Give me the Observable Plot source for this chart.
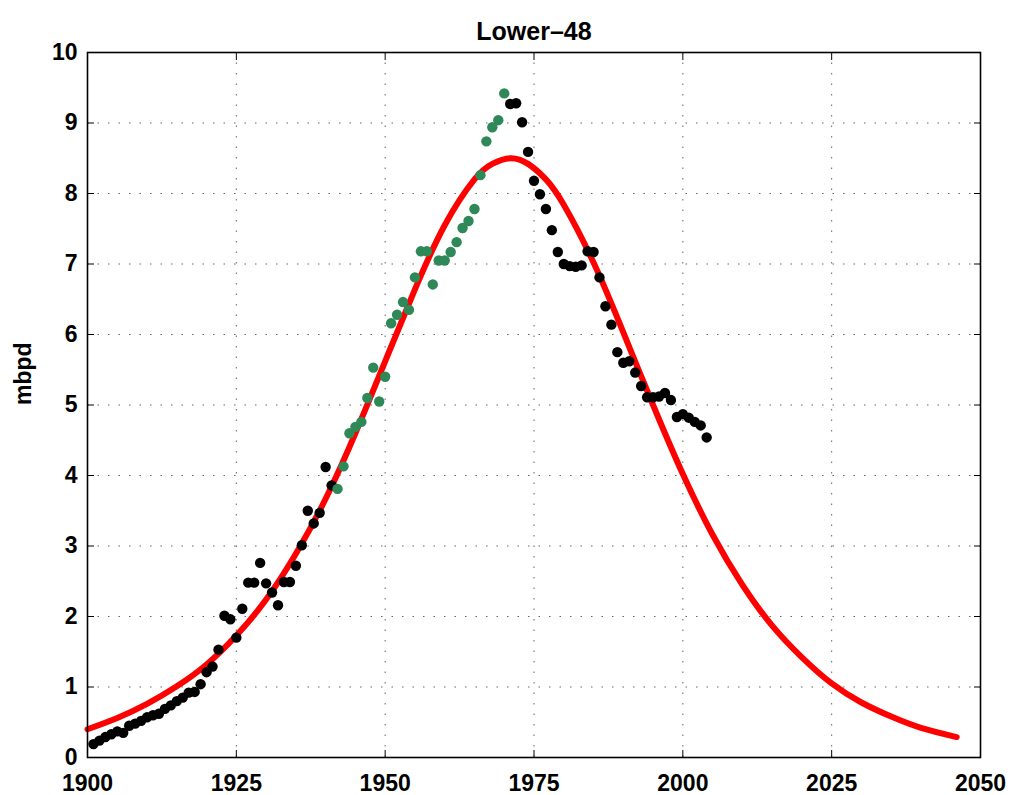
<!DOCTYPE html>
<html>
<head>
<meta charset="utf-8">
<script src="https://cdn.jsdelivr.net/npm/d3@7"></script>
<script src="https://cdn.jsdelivr.net/npm/@observablehq/plot@0.6"></script>
<style>
  html, body { margin: 0; padding: 0; background: #fff; }
</style>
</head>
<body>
<div id="chart"></div>
<script>
// ---- Data ----
const title = "Lower–48";
const yLabel = "mbpd";

// Annual production, black dots 1901–1941
const earlyStart = 1901;
const earlyMbpd = [
  0.19, 0.24, 0.29, 0.33, 0.37, 0.35, 0.45, 0.48, 0.52, 0.57,
  0.60, 0.62, 0.69, 0.74, 0.80, 0.85, 0.92, 0.93, 1.04, 1.21,
  1.29, 1.53, 2.01, 1.96, 1.70, 2.11, 2.48, 2.48, 2.76, 2.47,
  2.34, 2.16, 2.49, 2.49, 2.72, 3.01, 3.50, 3.32, 3.47, 4.12,
  3.86
];

// Green dots 1942–1970
const greenStart = 1942;
const greenMbpd = [
  3.81, 4.13, 4.60, 4.69, 4.76, 5.10, 5.53, 5.05, 5.40, 6.16,
  6.28, 6.46, 6.35, 6.81, 7.18, 7.18, 6.71, 7.05, 7.05, 7.17,
  7.31, 7.51, 7.61, 7.78, 8.26, 8.74, 8.94, 9.04, 9.42
];

// Black dots 1971–2004
const lateStart = 1971;
const lateMbpd = [
  9.27, 9.28, 9.01, 8.59, 8.18, 7.99, 7.78, 7.48, 7.17, 7.00,
  6.97, 6.96, 6.98, 7.18, 7.17, 6.81, 6.40, 6.14, 5.75, 5.60,
  5.62, 5.46, 5.27, 5.11, 5.11, 5.12, 5.17, 5.07, 4.83, 4.87,
  4.82, 4.76, 4.71, 4.54
];

// Fitted (Hubbert) curve
const fitYears = [1900, 1905, 1910, 1915, 1920, 1925, 1930, 1935, 1940, 1945,
                  1950, 1955, 1960, 1965, 1968, 1971, 1974, 1977, 1980, 1985,
                  1990, 1995, 2000, 2005, 2010, 2015, 2020, 2025, 2030, 2035,
                  2040, 2046];
const fitMbpd  = [0.40, 0.56, 0.76, 1.01, 1.32, 1.73, 2.24, 2.89, 3.67, 4.60,
                  5.62, 6.64, 7.55, 8.20, 8.42, 8.50, 8.42, 8.20, 7.84, 7.02,
                  6.03, 5.00, 4.02, 3.16, 2.45, 1.87, 1.42, 1.05, 0.78, 0.58,
                  0.42, 0.29];

const xTicks = [1900, 1925, 1950, 1975, 2000, 2025, 2050];
const yTicks = [0, 1, 2, 3, 4, 5, 6, 7, 8, 9, 10];

// ---- Build tables ----
const blackRows = [
  ...earlyMbpd.map((v, i) => ({year: earlyStart + i, mbpd: v})),
  ...lateMbpd.map((v, i) => ({year: lateStart + i, mbpd: v}))
];
const greenRows = greenMbpd.map((v, i) => ({year: greenStart + i, mbpd: v}));
const fitRows = fitYears.map((y, i) => ({year: y, mbpd: fitMbpd[i]}));

const chart = Plot.plot({
  width: 1013,
  height: 795,
  marginLeft: 87,
  marginRight: 33,
  marginTop: 52,
  marginBottom: 38,
  style: {
    fontFamily: "'Liberation Sans', Arial, Helvetica, sans-serif",
    fontSize: "23px",
    fontWeight: "bold",
    color: "black",
    background: "white",
    overflow: "visible"
  },
  x: {domain: [1900, 2050]},
  y: {domain: [0, 10]},
  marks: [
    Plot.gridX(xTicks, {stroke: "#555", strokeOpacity: 0.9, strokeDasharray: "1.5,9", strokeWidth: 1}),
    Plot.gridY(yTicks, {stroke: "#555", strokeOpacity: 0.9, strokeDasharray: "1.5,9", strokeWidth: 1}),
    Plot.lineY(fitRows, {x: "year", y: "mbpd", stroke: "#ff0000", strokeWidth: 6, curve: "natural"}),
    Plot.dot(blackRows, {x: "year", y: "mbpd", r: 5.2, fill: "#000000", stroke: "none"}),
    Plot.dot(greenRows, {x: "year", y: "mbpd", r: 5.2, fill: "#2e8857", stroke: "none"}),
    Plot.axisX(xTicks, {anchor: "bottom", tickSize: -7, tickPadding: 24, tickFormat: d => String(d), label: null, strokeWidth: 1}),
    Plot.axisX(xTicks, {anchor: "top", tickSize: -7, tickFormat: () => "", label: null, strokeWidth: 1}),
    Plot.axisY(yTicks, {anchor: "left", tickSize: -7, tickPadding: 17, tickFormat: d => String(d), label: null, strokeWidth: 1}),
    Plot.axisY(yTicks, {anchor: "right", tickSize: -7, tickFormat: () => "", label: null, strokeWidth: 1}),
    Plot.frame({stroke: "black", strokeWidth: 1.6}),
    Plot.text([title], {text: d => d, frameAnchor: "top", dy: -30, fontSize: 25, fontWeight: "bold", fill: "black"}),
    Plot.text([yLabel], {text: d => d, frameAnchor: "left", dx: -64, rotate: -90, fontSize: 23, fontWeight: "bold", fill: "black"})
  ]
});

document.getElementById("chart").appendChild(chart);
</script>
</body>
</html>
